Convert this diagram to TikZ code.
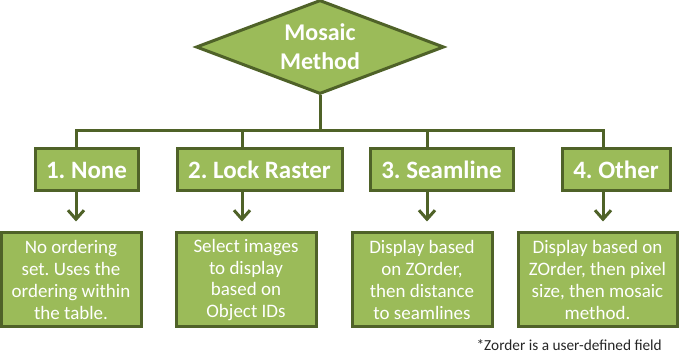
\documentclass[tikz,border=0pt]{standalone}
\usepackage{fontspec}
\setmainfont{Carlito}
\frenchspacing
\usetikzlibrary{arrows.meta,positioning,shapes.geometric}
\definecolor{mosaicfill}{HTML}{9BBB59}
\definecolor{mosaicline}{HTML}{4F6228}

\begin{document}
\begin{tikzpicture}[
    x=1pt,y=-1pt,
    decision/.style={diamond,draw=mosaicline,fill=mosaicfill,line width=3pt,aspect=2.6,
      minimum width=248pt,minimum height=94pt,inner sep=0pt,align=center,text=white,
      font=\bfseries\fontsize{24}{29}\selectfont},
    headbox/.style={rectangle,draw=mosaicline,fill=mosaicfill,line width=3pt,
      minimum height=42pt,inner sep=0pt,text=white,font=\bfseries\fontsize{25}{28}\selectfont},
    notebox/.style={rectangle,draw=mosaicline,fill=mosaicfill,line width=3pt,
      minimum height=94pt,inner sep=0pt,align=center,text=white,
      font=\fontsize{19}{21.7}\selectfont},
    link/.style={draw=mosaicline,line width=3pt},
    >={Straight Barb[length=9pt,width=16pt]}
  ]
  \useasboundingbox[fill=white] (0,0) rectangle (680,363);

  %% Top decision
  \node[decision] (mm) at (320,47) {Mosaic\\Method};

  %% Methods
  \node[headbox,minimum width=103pt] (h1) at (86.5,170) {1. None};
  \node[headbox,minimum width=165pt] (h2) at (259.5,170) {2. Lock Raster};
  \node[headbox,minimum width=143pt] (h3) at (441.5,170) {3. Seamline};
  \node[headbox,minimum width=108pt] (h4) at (616,170) {4. Other};

  %% Descriptions
  \node[notebox,minimum width=140pt] (d1) at (71,280) {No ordering\\set. Uses the\\ordering within\\the table.};
  \node[notebox,minimum width=140pt] (d2) at (246,280) {Select images\\to display\\based on\\Object IDs};
  \node[notebox,minimum width=140pt] (d3) at (422,280) {Display based\\on ZOrder,\\then distance\\to seamlines};
  \node[notebox,minimum width=159pt] (d4) at (597.5,280) {Display based on\\ZOrder, then pixel\\size, then mosaic\\method.};

  %% Footnote
  \node[anchor=base east,inner sep=0pt,text=black!85,font=\fontsize{15.3}{18}\selectfont] (note) at (662,350) {*Zorder is a user-defined field};

  %% Bus
  \foreach \i/\bx in {1/76,2/242,3/427,4/603}{
    \coordinate (bus\i) at (\bx,131);
  }
  \draw[link] (mm.south) -- (mm.south |- bus1);
  \draw[link,line join=miter] (bus1 |- h1.north) -- (bus1) -- (bus4) -- (bus4 |- h4.north);
  \draw[link] (bus2) -- (bus2 |- h2.north);
  \draw[link] (bus3) -- (bus3 |- h3.north);

  %% Arrows to descriptions
  \foreach \i in {1,2,3,4}{
    \draw[link,->,shorten >=10pt] (bus\i |- h\i.south) -- (bus\i |- d\i.north);
  }
\end{tikzpicture}
\end{document}
